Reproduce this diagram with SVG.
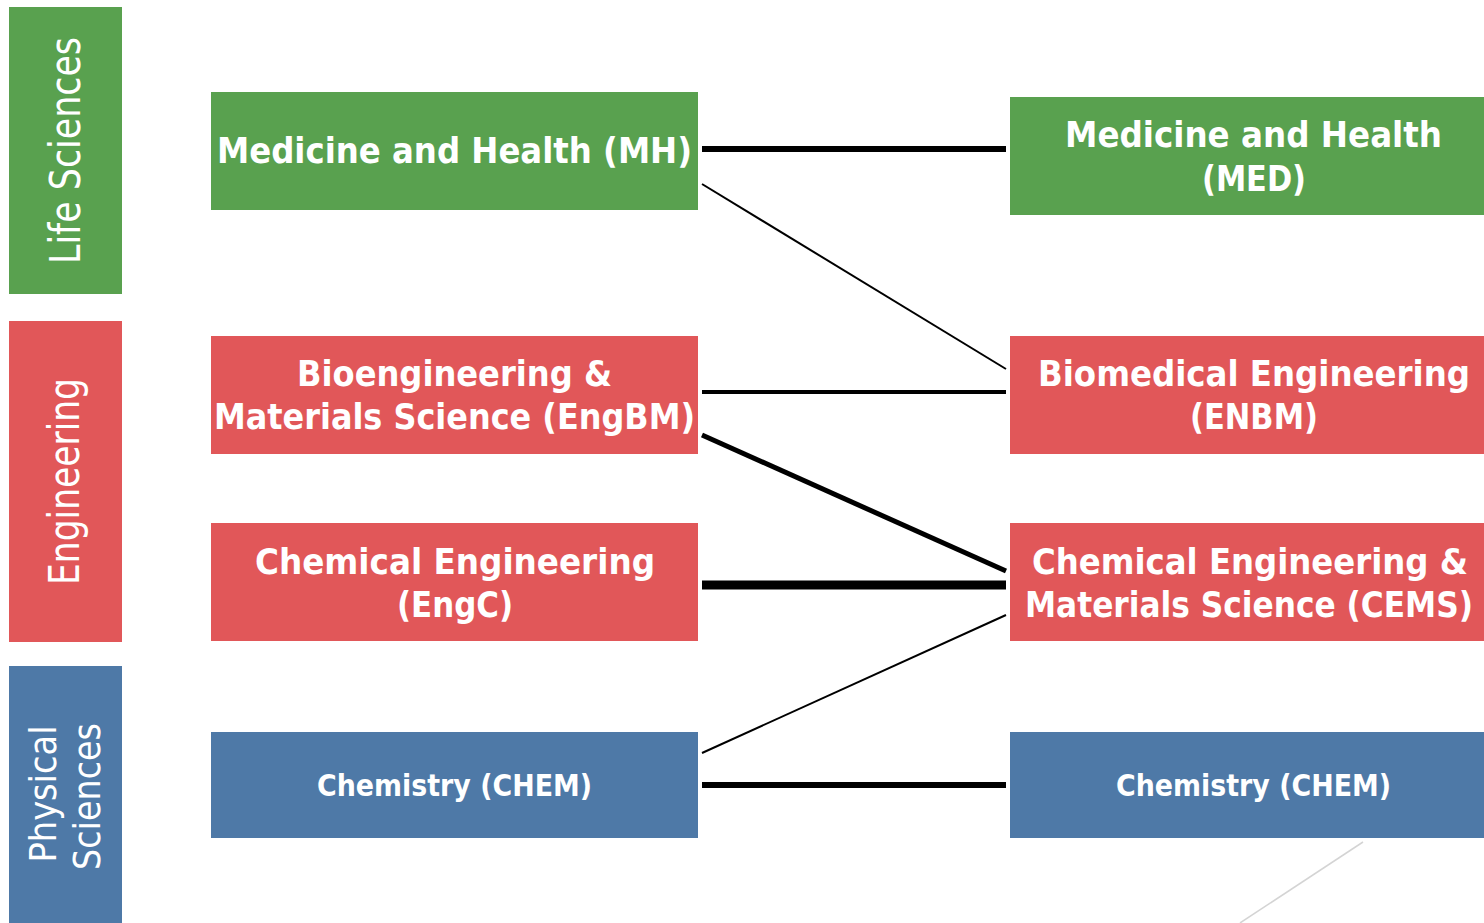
<svg xmlns="http://www.w3.org/2000/svg" width="1484" height="923" viewBox="0 0 1484 923">
<style>
.g{fill:#59A14F}.r{fill:#E15759}.b{fill:#4E79A7}
.t{font-family:"DejaVu Sans Condensed","DejaVu Sans",sans-serif;font-weight:bold;fill:#fff;text-anchor:middle}
.v{font-family:"DejaVu Sans Condensed","DejaVu Sans",sans-serif;fill:#fff;text-anchor:middle}
.c{stroke:#000;fill:none}
</style>
<rect width="1484" height="923" fill="#fff"/>
<g id="cat-life">
<rect class="g" x="9" y="7" width="113" height="287"/>
<text class="v" font-size="42" transform="translate(80,150.5) rotate(-90)" textLength="227" lengthAdjust="spacingAndGlyphs">Life Sciences</text>
</g>
<g id="cat-eng">
<rect class="r" x="9" y="321" width="113" height="321"/>
<text class="v" font-size="42" transform="translate(79,481.5) rotate(-90)" textLength="207" lengthAdjust="spacingAndGlyphs">Engineering</text>
</g>
<g id="cat-phys">
<rect class="b" x="9" y="666" width="113" height="257"/>
<text class="v" font-size="38" transform="translate(56,794) rotate(-90)" textLength="137" lengthAdjust="spacingAndGlyphs">Physical</text>
<text class="v" font-size="38" transform="translate(100,796.5) rotate(-90)" textLength="147" lengthAdjust="spacingAndGlyphs">Sciences</text>
</g>
<g id="connectors">
<line class="c" x1="702" y1="149" x2="1006" y2="149" stroke-width="6"/>
<line class="c" x1="702" y1="184" x2="1006" y2="369" stroke-width="2"/>
<line class="c" x1="702" y1="392" x2="1006" y2="392" stroke-width="4"/>
<line class="c" x1="702" y1="435" x2="1006" y2="571" stroke-width="5"/>
<line class="c" x1="702" y1="585" x2="1006" y2="585" stroke-width="9"/>
<line class="c" x1="702" y1="753" x2="1006" y2="615" stroke-width="2"/>
<line class="c" x1="702" y1="785" x2="1006" y2="785" stroke-width="6"/>
<line x1="1363" y1="842" x2="1240" y2="923" stroke="#d4d4d4" stroke-width="1.5"/>
</g>
<g id="n-mh">
<rect class="g" x="211" y="92" width="487" height="118"/>
<text class="t" x="454.5" y="163" font-size="36" textLength="475" lengthAdjust="spacingAndGlyphs">Medicine and Health (MH)</text>
</g>
<g id="n-engbm">
<rect class="r" x="211" y="336" width="487" height="118"/>
<text class="t" x="454.5" y="386" font-size="36" textLength="315" lengthAdjust="spacingAndGlyphs">Bioengineering &amp;</text>
<text class="t" x="454.5" y="429" font-size="36" textLength="481" lengthAdjust="spacingAndGlyphs">Materials Science (EngBM)</text>
</g>
<g id="n-engc">
<rect class="r" x="211" y="523" width="487" height="118"/>
<text class="t" x="455" y="574" font-size="36" textLength="400" lengthAdjust="spacingAndGlyphs">Chemical Engineering</text>
<text class="t" x="455" y="617" font-size="36" textLength="116" lengthAdjust="spacingAndGlyphs">(EngC)</text>
</g>
<g id="n-chem-l">
<rect class="b" x="211" y="732" width="487" height="106"/>
<text class="t" x="454.5" y="796" font-size="31" textLength="275" lengthAdjust="spacingAndGlyphs">Chemistry (CHEM)</text>
</g>
<g id="n-med">
<rect class="g" x="1010" y="97" width="474" height="118"/>
<text class="t" x="1253.5" y="147" font-size="36" textLength="377" lengthAdjust="spacingAndGlyphs">Medicine and Health</text>
<text class="t" x="1254" y="191" font-size="36" textLength="104" lengthAdjust="spacingAndGlyphs">(MED)</text>
</g>
<g id="n-enbm">
<rect class="r" x="1010" y="336" width="474" height="118"/>
<text class="t" x="1254" y="386" font-size="36" textLength="432" lengthAdjust="spacingAndGlyphs">Biomedical Engineering</text>
<text class="t" x="1254" y="429" font-size="36" textLength="128" lengthAdjust="spacingAndGlyphs">(ENBM)</text>
</g>
<g id="n-cems">
<rect class="r" x="1010" y="523" width="474" height="118"/>
<text class="t" x="1250" y="574" font-size="36" textLength="436" lengthAdjust="spacingAndGlyphs">Chemical Engineering &amp;</text>
<text class="t" x="1249" y="617" font-size="36" textLength="448" lengthAdjust="spacingAndGlyphs">Materials Science (CEMS)</text>
</g>
<g id="n-chem-r">
<rect class="b" x="1010" y="732" width="474" height="106"/>
<text class="t" x="1253.5" y="796" font-size="31" textLength="275" lengthAdjust="spacingAndGlyphs">Chemistry (CHEM)</text>
</g>
</svg>
